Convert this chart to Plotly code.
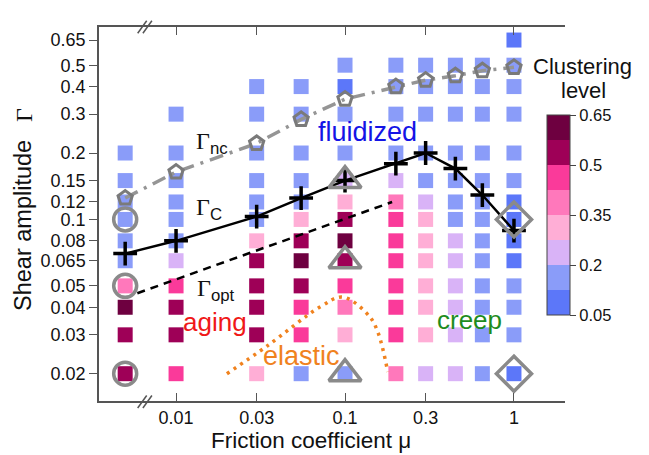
import plotly.graph_objects as go

# ---------------------------------------------------------------
# data
# ---------------------------------------------------------------
# friction coefficient of each column (first column = mu 0, drawn behind the axis break)
mu_cols = [0.005, 0.01, 0.03, 0.055, 0.1, 0.2, 0.3, 0.45, 0.65, 1.0]
# shear amplitude rows
gamma_rows = [0.02, 0.03, 0.04, 0.05, 0.065, 0.08, 0.1, 0.12, 0.15, 0.2, 0.3, 0.4, 0.5, 0.65]

# clustering level per column, bottom row first (None = not simulated)
level_c0 = [0.54, 0.54, 0.61, 0.39, 0.16, 0.16, 0.16, 0.16, 0.16, 0.16, None, None, None, None]
level_c1 = [0.46, 0.54, 0.54, 0.46, 0.24, 0.16, 0.16, 0.16, 0.16, 0.16, 0.16, None, None, None]
level_c2 = [0.31, 0.54, 0.54, 0.54, 0.54, 0.31, 0.16, 0.16, 0.16, 0.16, 0.16, 0.16, None, None]
level_c3 = [0.16, 0.46, 0.46, 0.54, 0.61, 0.54, 0.31, 0.16, 0.16, 0.16, 0.16, 0.16, None, None]
level_c4 = [0.16, 0.31, 0.39, 0.46, 0.54, 0.61, 0.54, 0.31, 0.24, 0.16, 0.16, 0.09, 0.16, None]
level_c5 = [0.39, 0.46, 0.46, 0.46, 0.46, 0.46, 0.46, 0.39, 0.24, 0.16, 0.16, 0.16, 0.16, None]
level_c6 = [0.24, 0.31, 0.31, 0.31, 0.31, 0.31, 0.31, 0.24, 0.16, 0.16, 0.16, 0.16, 0.16, None]
level_c7 = [0.24, 0.24, 0.24, 0.24, 0.24, 0.24, 0.16, 0.16, 0.16, 0.16, 0.16, 0.16, 0.16, None]
level_c8 = [0.16, 0.16, 0.16, 0.16, 0.16, 0.16, 0.16, 0.16, 0.16, 0.16, 0.16, 0.16, 0.16, None]
level_c9 = [0.09, 0.16, 0.16, 0.16, 0.09, 0.09, 0.09, 0.09, 0.16, 0.16, 0.16, 0.16, 0.16, 0.09]
levels = [level_c0, level_c1, level_c2, level_c3, level_c4,
          level_c5, level_c6, level_c7, level_c8, level_c9]

# boundary lines
gnc_gamma = [0.125, 0.164, 0.221, 0.284, 0.351, 0.40, 0.428, 0.448, 0.472, 0.489]
gc_gamma = [0.070, 0.080, 0.103, 0.125, 0.150, 0.179, 0.200, 0.170, 0.129, 0.089]
gopt_mu = [0.0059, 0.19]
gopt_gamma = [0.0463, 0.120]
elastic_mu = [0.020, 0.0346, 0.0711, 0.0973, 0.1406, 0.157, 0.168, 0.179]
elastic_gamma = [0.020, 0.0267, 0.0401, 0.0445, 0.0361, 0.0306, 0.0256, 0.0204]

# highlighted state points
circle_mu = [0.005, 0.005, 0.005]
circle_gamma = [0.1, 0.05, 0.02]
triangle_mu = [0.1, 0.1, 0.1]
triangle_gamma = [0.15, 0.065, 0.02]
diamond_mu = [1.0, 1.0]
diamond_gamma = [0.1, 0.02]

x_ticks = [0.01, 0.03, 0.1, 0.3, 1]
x_ticktext = ['0.01', '0.03', '0.1', '0.3', '1']
y_ticks = gamma_rows
y_ticktext = ['0.02', '0.03', '0.04', '0.05', '0.065', '0.08', '0.1', '0.12',
              '0.15', '0.2', '0.3', '0.4', '0.5', '0.65']
cbar_ticks = [0.05, 0.2, 0.35, 0.5, 0.65]

# ---------------------------------------------------------------
# styling
# ---------------------------------------------------------------
# the page body has an 8px margin, so the figure is shrunk by that much
OFF = 8
W, H = 649 - OFF, 455 - OFF
L, R, T, B = 99, 565, 27, 401   # plot box in page pixels
FONT = 'Liberation Sans'
SERIF_FONT = 'Liberation Serif'
GRAY = '#8a8a8a'
AX = '#555555'
INK = '#111111'

band_colors = ['#5c77f9', '#8a9cf9', '#d9b3f7', '#ffaed6',
               '#ff78bb', '#fa3a9a', '#9e0057', '#6e0040']
colorscale = []
for i, c in enumerate(band_colors):
  colorscale.append([i / 8, c])
  colorscale.append([(i + 1) / 8, c])


def px(x):
  return (x - L) / (R - L)


def py(y):
  return (B - y) / (B - T)


# flatten grid
sq_x, sq_y, sq_c = [], [], []
for mu, col in zip(mu_cols, levels):
  for g, v in zip(gamma_rows, col):
    if v is not None:
      sq_x.append(mu)
      sq_y.append(g)
      sq_c.append(v)

fig = go.Figure()

fig.add_trace(go.Scatter(
  x=sq_x, y=sq_y, mode='markers',
  marker=dict(symbol='square', size=15, color=sq_c, cmin=0.05, cmax=0.65,
              colorscale=colorscale, line=dict(width=0),
              colorbar=dict(x=px(547), xanchor='left', xpad=0, ypad=0,
                            y=py(215), yanchor='middle', len=200, lenmode='pixels',
                            thickness=23, outlinewidth=1, outlinecolor='#444444',
                            tickvals=cbar_ticks, ticks='outside', ticklen=6,
                            tickcolor='#444444', tickfont=dict(family=FONT, size=16.5, color=INK))),
  showlegend=False, hoverinfo='skip'))

# Gamma_nc
fig.add_trace(go.Scatter(
  x=mu_cols, y=gnc_gamma, mode='lines+markers',
  line=dict(color='#959595', width=3.5, dash='14px,7px,3px,7px'),
  marker=dict(symbol='pentagon-open', size=15, color='#7a7a7a', line=dict(width=3, color='#7a7a7a')),
  showlegend=False))

# Gamma_opt
fig.add_trace(go.Scatter(
  x=gopt_mu, y=gopt_gamma, mode='lines',
  line=dict(color='black', width=2.5, dash='8px,6px'), showlegend=False))

# elastic boundary
fig.add_trace(go.Scatter(
  x=elastic_mu, y=elastic_gamma, mode='lines', line_shape='spline',
  line=dict(color='#f0821e', width=3.5, dash='3px,5px'), showlegend=False))

# Gamma_c
fig.add_trace(go.Scatter(
  x=mu_cols, y=gc_gamma, mode='lines+markers',
  line=dict(color='black', width=2.5),
  marker=dict(symbol='cross-thin', size=17, color='black', line=dict(width=3.5, color='black')),
  showlegend=False))

for xs, ys, sym, size in [(circle_mu, circle_gamma, 'circle-open', 23),
                          (triangle_mu, triangle_gamma, 'triangle-up-open', 28),
                          (diamond_mu, diamond_gamma, 'diamond-open', 27)]:
  fig.add_trace(go.Scatter(
    x=xs, y=ys, mode='markers',
    marker=dict(symbol=sym, size=size, color=GRAY, line=dict(width=3.5, color=GRAY)),
    showlegend=False))

# ---------------------------------------------------------------
# axes
# ---------------------------------------------------------------
fig.update_xaxes(type='log', range=[-2.456, 0.302], tickvals=x_ticks, ticktext=x_ticktext,
                 ticks='inside', ticklen=8, tickcolor=AX, showline=True, linecolor=AX,
                 linewidth=1.5, mirror='ticks', showgrid=False, zeroline=False,
                 tickfont=dict(family=FONT, size=18, color=INK))
fig.update_yaxes(type='log', range=[-1.8227, -0.128], tickvals=y_ticks, ticktext=y_ticktext,
                 ticks='outside', ticklen=8, tickcolor=AX, showline=True, linecolor=AX,
                 linewidth=1.5, showgrid=False, zeroline=False,
                 tickfont=dict(family=FONT, size=18, color=INK))

# axis break marks
shapes = []
for yb in [(33.3, 20.7), (408, 395.5)]:
  for x0 in [137.7, 142.9]:
    shapes.append(dict(type='line', xref='paper', yref='paper',
                       x0=px(x0), y0=py(yb[0]), x1=px(x0 + 9), y1=py(yb[1]),
                       line=dict(color=AX, width=1.5)))

GAM = '<span style="font-family:Liberation Serif">Γ</span>'
ann = [
  dict(text=GAM + '<sub>nc</sub>', x=px(194), y=py(143), size=24, color=INK, xa='left'),
  dict(text=GAM + '<sub>C</sub>', x=px(194), y=py(209), size=24, color=INK, xa='left'),
  dict(text=GAM + '<sub>opt</sub>', x=px(195), y=py(290), size=24, color=INK, xa='left'),
  dict(text='fluidized', x=px(367), y=py(132), size=27, color='#1414e6', xa='center'),
  dict(text='aging', x=px(215), y=py(322), size=26, color='#f01818', xa='center'),
  dict(text='elastic', x=px(301), y=py(356), size=27, color='#f0821e', xa='center'),
  dict(text='creep', x=px(469), y=py(320), size=26, color='#1e8c1e', xa='center'),
  dict(text='Clustering', x=px(582), y=py(67), size=22, color=INK, xa='center'),
  dict(text='level', x=px(583), y=py(90), size=22, color=INK, xa='center'),
  dict(text='Friction coefficient μ', x=px(311), y=py(440), size=22.5, color=INK, xa='center'),
]
annotations = []
for a in ann:
  annotations.append(dict(text=a['text'], x=a['x'], y=a['y'], xref='paper', yref='paper',
                          xanchor=a['xa'], yanchor='middle', showarrow=False,
                          font=dict(family=FONT, size=a['size'], color=a['color'])))
# y title: sans words plus a serif Gamma
annotations.append(dict(text='Shear amplitude', x=px(23), y=py(226),
                        xref='paper', yref='paper', textangle=-90, showarrow=False,
                        xanchor='center', yanchor='middle',
                        font=dict(family=FONT, size=23.5, color=INK)))
annotations.append(dict(text='Γ', x=px(24), y=py(115),
                        xref='paper', yref='paper', textangle=-90, showarrow=False,
                        xanchor='center', yanchor='middle',
                        font=dict(family=SERIF_FONT, size=24, color=INK)))

fig.update_layout(
  width=W, height=H,
  margin=dict(l=L - OFF, r=649 - R, t=T - OFF, b=455 - B, autoexpand=False),
  paper_bgcolor='white', plot_bgcolor='white',
  shapes=shapes, annotations=annotations,
  hovermode='closest')

fig.write_html('out.html')
